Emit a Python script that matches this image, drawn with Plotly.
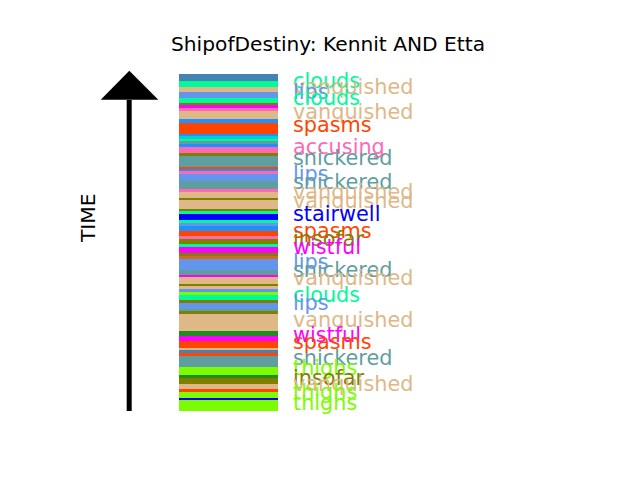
import numpy as np
import plotly.graph_objects as go

# ---- data (top of column = earliest) ----
segment_colors = [
    "steelblue", "mediumspringgreen", "burlywood", "cornflowerblue", "mediumspringgreen",
    "olive", "magenta", "hotpink", "burlywood", "dodgerblue",
    "orangered", "dodgerblue", "darkturquoise", "mediumspringgreen", "cadetblue",
    "dodgerblue", "hotpink", "olive", "cadetblue", "orangered",
    "dodgerblue", "hotpink", "cornflowerblue", "cadetblue", "hotpink",
    "burlywood", "olive", "burlywood", "olive", "mediumspringgreen",
    "blue", "mediumspringgreen", "cornflowerblue", "dodgerblue", "orangered",
    "hotpink", "olive", "mediumspringgreen", "magenta", "olive",
    "chocolate", "cornflowerblue", "cadetblue", "magenta", "burlywood",
    "olive", "burlywood", "cornflowerblue", "lawngreen", "mediumspringgreen",
    "olive", "cornflowerblue", "cadetblue", "olive", "burlywood",
    "forestgreen", "magenta", "orangered", "burlywood", "steelblue",
    "orangered", "cadetblue", "lawngreen", "forestgreen", "olive",
    "burlywood", "orangered", "lawngreen", "blue", "lawngreen",
]
segment_lengths = [
    7, 6, 5, 6, 5,
    2.7, 2, 3.3, 8.3, 3.4,
    11, 2.3, 2.5, 2.8, 2.7,
    3.3, 5.7, 2.7, 11.3, 2.3,
    2, 2.4, 7, 8, 3,
    6, 2.3, 8.7, 2.3, 3,
    6, 3, 2.7, 5.3, 5,
    2.7, 5.6, 3, 5.7, 3,
    2.7, 11.3, 4.7, 2.6, 6.4,
    2.3, 2.5, 3.2, 3.3, 5,
    2.3, 7.2, 1.5, 3, 17,
    4.3, 5.7, 6.7, 2, 3,
    2.6, 11.7, 7.7, 3.3, 6,
    5, 2.7, 5.6, 2.4, 11,
]
segment_labels = [
    "", "clouds", "vanquished", "lips", "clouds",
    "", "", "", "vanquished", "",
    "spasms", "", "", "", "",
    "", "accusing", "", "snickered", "",
    "", "", "lips", "snickered", "",
    "vanquished", "", "vanquished", "", "",
    "stairwell", "", "", "", "spasms",
    "", "insofar", "", "wistful", "",
    "", "lips", "snickered", "", "vanquished",
    "", "", "", "", "clouds",
    "", "lips", "", "", "vanquished",
    "", "wistful", "spasms", "", "",
    "", "snickered", "thighs", "", "insofar",
    "vanquished", "", "thighs", "", "thighs",
]
title_text = "ShipofDestiny: Kennit AND Etta"
axis_label = "TIME"

lengths = np.array(segment_lengths, dtype=float)
bases = np.concatenate([[0.0], np.cumsum(lengths)[:-1]])
total = float(lengths.sum())
centers = bases + lengths / 2

FONT = "DejaVu Sans"

fig = go.Figure()
fig.add_trace(go.Bar(
    x=[0] * len(lengths),
    y=lengths,
    base=bases,
    width=1,
    marker=dict(color=segment_colors, line=dict(width=0)),
    hoverinfo="skip",
    showlegend=False,
))

annotations = []
for lab, col, c in zip(segment_labels, segment_colors, centers):
    if not lab:
        continue
    annotations.append(dict(
        x=0.5, xref="x", y=c, yref="y",
        text=lab, showarrow=False,
        xanchor="left", yanchor="middle",
        xshift=13, yshift=3,
        font=dict(family=FONT, size=20.8, color=col),
    ))

# TIME label
annotations.append(dict(
    x=88 / 640, xref="paper", y=(411 - 219) / 337, yref="paper",
    text=axis_label, showarrow=False, textangle=-90,
    xanchor="center", yanchor="middle",
    font=dict(family=FONT, size=20.2, color="black"),
))

shapes = [
    dict(type="line", xref="paper", yref="paper",
         x0=129.2 / 640, x1=129.2 / 640, y0=0, y1=(411 - 100) / 337,
         line=dict(color="black", width=5)),
    dict(type="path", xref="paper", yref="paper",
         path=f"M {100.7/640},{(411-99.7)/337} L {158.3/640},{(411-99.7)/337} "
              f"L {129.3/640},{(411-70.7)/337} Z",
         fillcolor="black", line=dict(color="black", width=0)),
]

fig.update_layout(
    width=640, height=480,
    margin=dict(l=0, r=0, t=74, b=69, pad=0),
    paper_bgcolor="white", plot_bgcolor="white",
    title=dict(text=title_text, x=328 / 640, xanchor="center",
               y=1 - 44 / 480, yanchor="middle", yref="container",
               font=dict(family=FONT, size=20.2, color="black")),
    xaxis=dict(range=[-0.5 - 179 / 99, 0.5 + (640 - 278) / 99], visible=False,
               fixedrange=True),
    yaxis=dict(range=[total, 0], visible=False, fixedrange=True),
    annotations=annotations,
    shapes=shapes,
    bargap=0,
)

fig.write_html("out.html")
